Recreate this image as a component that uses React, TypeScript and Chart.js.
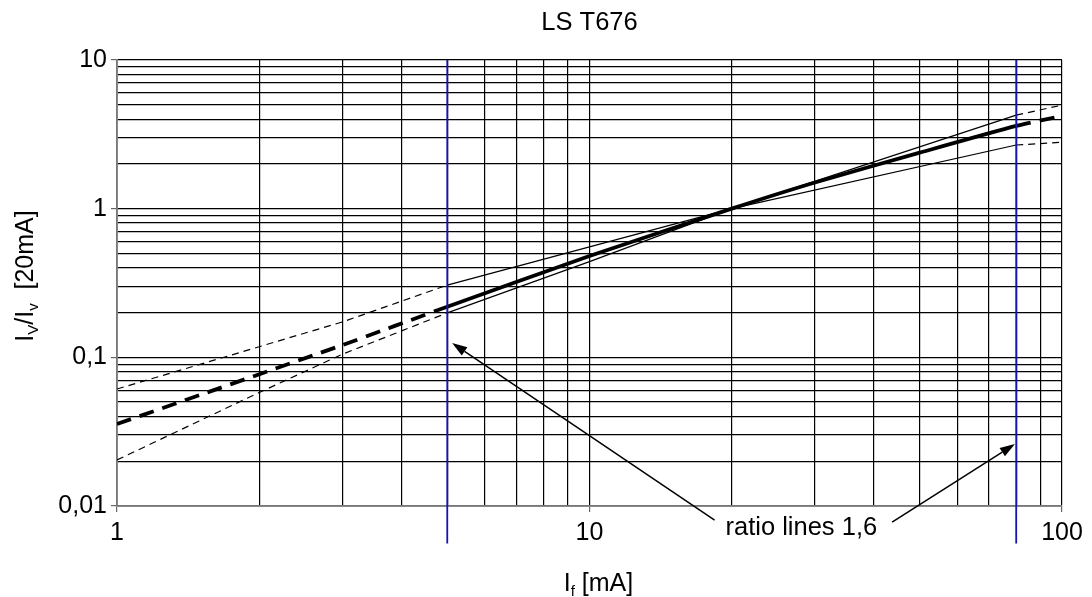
import React, { useEffect, useRef } from 'react';
import { Chart, registerables } from 'chart.js';

Chart.register(...registerables);

// ---- data ----
const xGrid = [1, 2, 3, 4, 5, 6, 7, 8, 9, 10, 20, 30, 40, 50, 60, 70, 80, 90, 100];
const yGrid = [
  0.01, 0.02, 0.03, 0.04, 0.05, 0.06, 0.07, 0.08, 0.09,
  0.1, 0.2, 0.3, 0.4, 0.5, 0.6, 0.7, 0.8, 0.9,
  1, 2, 3, 4, 5, 6, 7, 8, 9, 10,
];
const xTickLabels: Record<string, string> = { '1': '1', '10': '10', '100': '100' };
const yTickLabels: Record<string, string> = { '0.01': '0,01', '0.1': '0,1', '1': '1', '10': '10' };

const mainX = [1, 3, 5, 10, 20, 30, 50, 80, 100];
const mainY = [0.0356, 0.121, 0.219, 0.48, 1, 1.5, 2.38, 3.6, 4.2];

const upperX = [1, 3, 5, 10, 20, 80, 100];
const upperY = [0.0612, 0.173, 0.306, 0.554, 1, 4.26, 4.97];

const lowerX = [1, 2, 3, 5, 10, 20, 80, 100];
const lowerY = [0.0204, 0.058, 0.105, 0.199, 0.44, 1, 2.68, 2.8];

const ratioX = [5, 80];
const ratioYTop = 10;
const ratioYBottom = 0.0056;

const titleText = 'LS T676';
const annotationText = 'ratio lines 1,6';
const arrowTails = [[18.4, 0.00805], [43.7, 0.0078]];
const arrowTips = [[5.12, 0.125], [79.5, 0.0261]];
const annotationAnchor = [19.4, 0.00638];

const FONT = '"Liberation Sans", Arial, Helvetica, sans-serif';

const toPts = (xs: number[], ys: number[]) => xs.map((x, i) => ({ x, y: ys[i] }));

const dashOutside = (dash: number[]) => (ctx: any) =>
  ctx.p0.parsed.x < ratioX[0] || ctx.p0.parsed.x >= ratioX[1] ? dash : [];

const textPlugin = {
  id: 'texts',
  afterDatasetsDraw(chart: any) {
    const { ctx, scales, chartArea } = chart;
    const xs = scales.x;
    const ys = scales.y;
    ctx.save();
    // arrows
    ctx.strokeStyle = '#000';
    ctx.fillStyle = '#000';
    ctx.lineWidth = 1.5;
    arrowTails.forEach((t, i) => {
      const x0 = xs.getPixelForValue(t[0]);
      const y0 = ys.getPixelForValue(t[1]);
      const x1 = xs.getPixelForValue(arrowTips[i][0]);
      const y1 = ys.getPixelForValue(arrowTips[i][1]);
      const ang = Math.atan2(y1 - y0, x1 - x0);
      const hl = 15;
      const hw = 5;
      const bx = x1 - hl * Math.cos(ang);
      const by = y1 - hl * Math.sin(ang);
      ctx.beginPath();
      ctx.moveTo(x0, y0);
      ctx.lineTo(bx, by);
      ctx.stroke();
      ctx.beginPath();
      ctx.moveTo(x1, y1);
      ctx.lineTo(bx + hw * Math.sin(ang), by - hw * Math.cos(ang));
      ctx.lineTo(bx - hw * Math.sin(ang), by + hw * Math.cos(ang));
      ctx.closePath();
      ctx.fill();
    });
    // annotation text
    ctx.font = `25.5px ${FONT}`;
    ctx.textAlign = 'left';
    ctx.textBaseline = 'alphabetic';
    ctx.fillText(
      annotationText,
      xs.getPixelForValue(annotationAnchor[0]),
      ys.getPixelForValue(annotationAnchor[1])
    );
    // title
    const cx = (chartArea.left + chartArea.right) / 2;
    ctx.font = `25.5px ${FONT}`;
    ctx.textAlign = 'center';
    ctx.fillText(titleText, cx, 29.5);

    // axis labels with subscripts
    const big = `25px ${FONT}`;
    const small = `15px ${FONT}`;
    const drawParts = (parts: { t: string; sub: boolean }[], startX: number, baseY: number) => {
      let px = startX;
      ctx.textAlign = 'left';
      parts.forEach((p) => {
        ctx.font = p.sub ? small : big;
        ctx.fillText(p.t, px, baseY + (p.sub ? 5 : 0));
        px += ctx.measureText(p.t).width;
      });
    };
    const measure = (parts: { t: string; sub: boolean }[]) =>
      parts.reduce((w, p) => {
        ctx.font = p.sub ? small : big;
        return w + ctx.measureText(p.t).width;
      }, 0);

    const xParts = [
      { t: 'I', sub: false },
      { t: 'f', sub: true },
      { t: ' [mA]', sub: false },
    ];
    const xw = measure(xParts);
    drawParts(xParts, cx + 9 - xw / 2, 591);

    const yParts = [
      { t: 'I', sub: false },
      { t: 'V', sub: true },
      { t: '/I', sub: false },
      { t: 'v', sub: true },
      { t: '  [20mA]', sub: false },
    ];
    const yw = measure(yParts);
    ctx.save();
    ctx.translate(33, 276);
    ctx.rotate(-Math.PI / 2);
    drawParts(yParts, -yw / 2, 0);
    ctx.restore();

    ctx.restore();
  },
};

export default function App() {
  const ref = useRef<HTMLCanvasElement>(null);
  useEffect(() => {
    const canvas = ref.current!;
    const chart = new Chart(canvas, {
      type: 'line',
      data: {
        datasets: [
          {
            label: 'ratio',
            data: [
              { x: ratioX[0], y: ratioYTop },
              { x: ratioX[0], y: ratioYBottom },
              { x: NaN, y: NaN },
              { x: ratioX[1], y: ratioYTop },
              { x: ratioX[1], y: ratioYBottom },
            ],
            borderColor: 'rgb(20,20,175)',
            borderWidth: 1.8,
            pointRadius: 0,
            spanGaps: false,
            clip: false as any,
          },
          {
            label: 'upper',
            data: toPts(upperX, upperY),
            borderColor: '#000',
            borderWidth: 1.2,
            pointRadius: 0,
            tension: 0,
            segment: { borderDash: dashOutside([7, 5]) },
          },
          {
            label: 'lower',
            data: toPts(lowerX, lowerY),
            borderColor: '#000',
            borderWidth: 1.2,
            pointRadius: 0,
            tension: 0,
            segment: { borderDash: dashOutside([7, 5]) },
          },
          {
            label: 'main',
            data: toPts(mainX, mainY),
            borderColor: '#000',
            borderWidth: 3.8,
            pointRadius: 0,
            tension: 0.2,
            segment: { borderDash: dashOutside([15, 9]) },
          },
        ],
      },
      options: {
        animation: false,
        responsive: false,
        devicePixelRatio: 1,
        parsing: true,
        layout: { padding: { top: 60, right: 30, left: 0, bottom: 0 } },
        plugins: {
          legend: { display: false },
          title: { display: false },
          tooltip: { enabled: false },
        },
        scales: {
          x: {
            type: 'logarithmic',
            min: 1,
            max: 100,
            afterBuildTicks: (s: any) => {
              s.ticks = xGrid.map((v) => ({ value: v }));
            },
            afterFit: (s: any) => {
              s.height = 91;
            },
            ticks: {
              autoSkip: false,
              maxRotation: 0,
              minRotation: 0,
              padding: 6,
              color: '#000',
              font: { size: 25, family: FONT },
              callback: (v: any) => xTickLabels[String(v)] ?? '',
            },
            grid: {
              color: '#000',
              lineWidth: 1.2,
              tickLength: 6,
              tickColor: (c: any) => (xTickLabels[String(c.tick?.value)] ? '#666' : 'rgba(0,0,0,0)'),
            },
            border: { color: '#777', width: 1.8 },
          },
          y: {
            type: 'logarithmic',
            min: 0.01,
            max: 10,
            afterBuildTicks: (s: any) => {
              s.ticks = yGrid.map((v) => ({ value: v }));
            },
            afterFit: (s: any) => {
              s.width = 117;
            },
            ticks: {
              autoSkip: false,
              padding: 4,
              color: '#000',
              font: { size: 25, family: FONT },
              callback: (v: any) => yTickLabels[String(v)] ?? '',
            },
            grid: {
              color: '#000',
              lineWidth: 1.2,
              tickLength: 6,
              tickColor: (c: any) => (yTickLabels[String(c.tick?.value)] ? '#666' : 'rgba(0,0,0,0)'),
            },
            border: { color: '#777', width: 1.8 },
          },
        },
      },
      plugins: [textPlugin],
    } as any);
    return () => chart.destroy();
  }, []);
  return (
    <div style={{ position: 'absolute', left: 0, top: 0, width: 1092, height: 597, background: '#fff' }}>
      <canvas ref={ref} width={1092} height={597} style={{ display: 'block', width: 1092, height: 597 }} />
    </div>
  );
}
